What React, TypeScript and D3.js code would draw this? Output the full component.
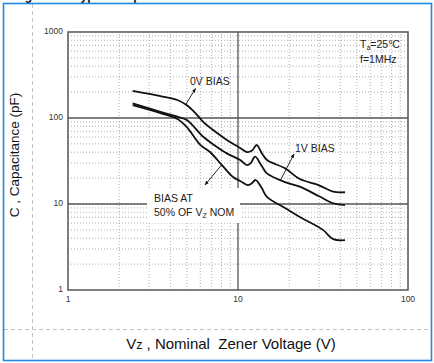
import React from 'react';
import * as d3 from 'd3';

const W = 434, H = 363;
const margin = { top: 32, right: 26, bottom: 73, left: 68 };
const plotW = W - margin.left - margin.right; // 340
const plotH = H - margin.top - margin.bottom; // 258

// curve data: Vz (V) vs C (pF)
const bias0V_v = [2.4, 3.5, 4.4, 5.0, 5.6, 6.24, 7.3, 8.6, 10.3, 11.3, 12.1, 12.9, 13.8, 14.8, 18.9, 23.1, 30, 36.3, 42.6];
const bias0V_c = [207, 180, 162, 141, 115, 90, 70, 55.6, 44.8, 40.2, 42, 48.5, 39, 32.5, 26, 19.5, 16.5, 13.9, 13.7];

const bias1V_v = [2.4, 3.5, 4.4, 5.0, 6.24, 7.3, 8.6, 10.3, 11.3, 11.9, 12.6, 13.8, 14.8, 18.9, 23.1, 30, 36.3, 42.6];
const bias1V_c = [148, 118, 103.6, 95, 60.6, 48, 38.8, 32.5, 28.3, 30, 35.5, 27.6, 22.7, 18, 15.9, 12.3, 10.2, 9.7];

const bias50_v = [2.4, 3.5, 4.4, 5.0, 6.0, 6.84, 8.05, 9.35, 10.3, 11.4, 12.0, 12.7, 13.8, 14.8, 18.9, 23.1, 31.6, 36.3, 42.6];
const bias50_c = [141, 114, 97.6, 78.5, 48.6, 40.2, 28.3, 20.6, 18.5, 16.6, 17.3, 19, 15.3, 12.1, 9, 7.06, 5.0, 3.9, 3.8];

const xTicks = [1, 10, 100];
const yTicks = [1, 10, 100, 1000];

const x = d3.scaleLog().domain([1, 100]).range([margin.left, margin.left + plotW]);
const y = d3.scaleLog().domain([1, 1000]).range([margin.top + plotH, margin.top]);

const minorX = d3.range(0, 2).flatMap(e => d3.range(2, 10).map(m => m * Math.pow(10, e)));
const minorY = d3.range(0, 3).flatMap(e => d3.range(2, 10).map(m => m * Math.pow(10, e)));

const line = d3.line<[number, number]>()
  .x(d => x(d[0]))
  .y(d => y(d[1]))
  .curve(d3.curveCatmullRom.alpha(0.5));

const series = [
  { v: bias0V_v, c: bias0V_c },
  { v: bias1V_v, c: bias1V_c },
  { v: bias50_v, c: bias50_c },
];

const font = 'Arial, "Liberation Sans", Helvetica, sans-serif';

const App = () => {
  const x0 = x(1), x1 = x(100), y0 = y(1), y1 = y(1000);
  return (
    <svg width={W} height={H} style={{ position: 'absolute', left: 0, top: 0 }} fontFamily={font}>
      <defs>
        <marker id="ah" viewBox="0 0 10 10" refX="9" refY="5" markerWidth="5" markerHeight="5" orient="auto">
          <path d="M0,1 L10,5 L0,9 Z" fill="#111" />
        </marker>
      </defs>
      <rect x={0} y={0} width={W} height={H} fill="#fff" />
      {/* title, clipped by the top edge as in the source */}
      <text x={14} y={-0.5} fontSize={12} fontWeight="bold" fill="#111">Figure 10. Typical Capacitance</text>

      {/* layout helper lines */}
      <line x1={32.5} x2={32.5} y1={4} y2={360} stroke="#c4c4c4" strokeDasharray="4,3" />
      <line x1={4} x2={431} y1={329.5} y2={329.5} stroke="#c4c4c4" strokeDasharray="4,3" />

      {/* minor grid */}
      <g stroke="#9a9a9a" strokeWidth={0.8} strokeDasharray="1,2">
        {minorX.map(v => (
          <line key={'mx' + v} x1={x(v)} x2={x(v)} y1={y0} y2={y1} />
        ))}
        {minorY.map(v => (
          <line key={'my' + v} x1={x0} x2={x1} y1={y(v)} y2={y(v)} />
        ))}
      </g>
      {/* major grid */}
      <g stroke="#555" strokeWidth={1.3}>
        <line x1={x(10)} x2={x(10)} y1={y0} y2={y1} />
        <line x1={x0} x2={x1} y1={y(10)} y2={y(10)} />
        <line x1={x0} x2={x1} y1={y(100)} y2={y(100)} />
      </g>
      <rect x={x0} y={y1} width={x1 - x0} height={y0 - y1} fill="none" stroke="#555" strokeWidth={1.5} />

      {/* tick labels */}
      {yTicks.map(t => (
        <text key={'yt' + t} x={x0 - 5} y={y(t) + 1.5} fontSize={8.5} textAnchor="end" fill="#333">{t}</text>
      ))}
      {xTicks.map(t => (
        <text key={'xt' + t} x={x(t)} y={y0 + 11.5} fontSize={8.5} textAnchor="middle" fill="#333">{t}</text>
      ))}

      {/* white label box */}
      <rect x={147} y={188} width={93} height={35} fill="#fff" />

      {/* curves */}
      <g fill="none" stroke="#111" strokeWidth={1.8} strokeLinejoin="round">
        {series.map((s, i) => (
          <path key={i} d={line(s.v.map((v, j) => [v, s.c[j]] as [number, number])) || ''} />
        ))}
      </g>

      {/* annotations */}
      <g stroke="#111" strokeWidth={0.9}>
        <line x1={186} y1={104} x2={195.5} y2={88.5} markerEnd="url(#ah)" />
        <line x1={280} y1={181} x2={294} y2={154} markerEnd="url(#ah)" />
        <line x1={221.5} y1={165} x2={205} y2={185} markerEnd="url(#ah)" />
      </g>
      <g fontSize={10.5} fill="#222">
        <text x={190} y={84.5}>0V BIAS</text>
        <text x={295} y={151.5}>1V BIAS</text>
        <text x={154} y={202}>BIAS AT</text>
        <text x={154} y={216}>50% OF V<tspan fontSize={7} dy={2}>Z</tspan><tspan dy={-2}> NOM</tspan></text>
        <text x={360} y={47.5}>T<tspan fontSize={7} dy={2}>a</tspan><tspan dy={-2}>=25°C</tspan></text>
        <text x={360} y={63}>f=1MHz</text>
      </g>

      {/* axis titles */}
      <text x={231} y={349} fontSize={15} textAnchor="middle" fill="#111" xmlSpace="preserve">
        V<tspan fontSize={12.5}>z</tspan> , Nominal  Zener Voltage (V)
      </text>
      <text transform="translate(19,155) rotate(-90)" fontSize={13.5} textAnchor="middle" fill="#111">
        C , Capacitance (pF)
      </text>

      {/* frame */}
      <rect x={3.5} y={3.5} width={428} height={357} fill="none" stroke="#1e88e5" strokeWidth={1.6} />
    </svg>
  );
};

export default App;
